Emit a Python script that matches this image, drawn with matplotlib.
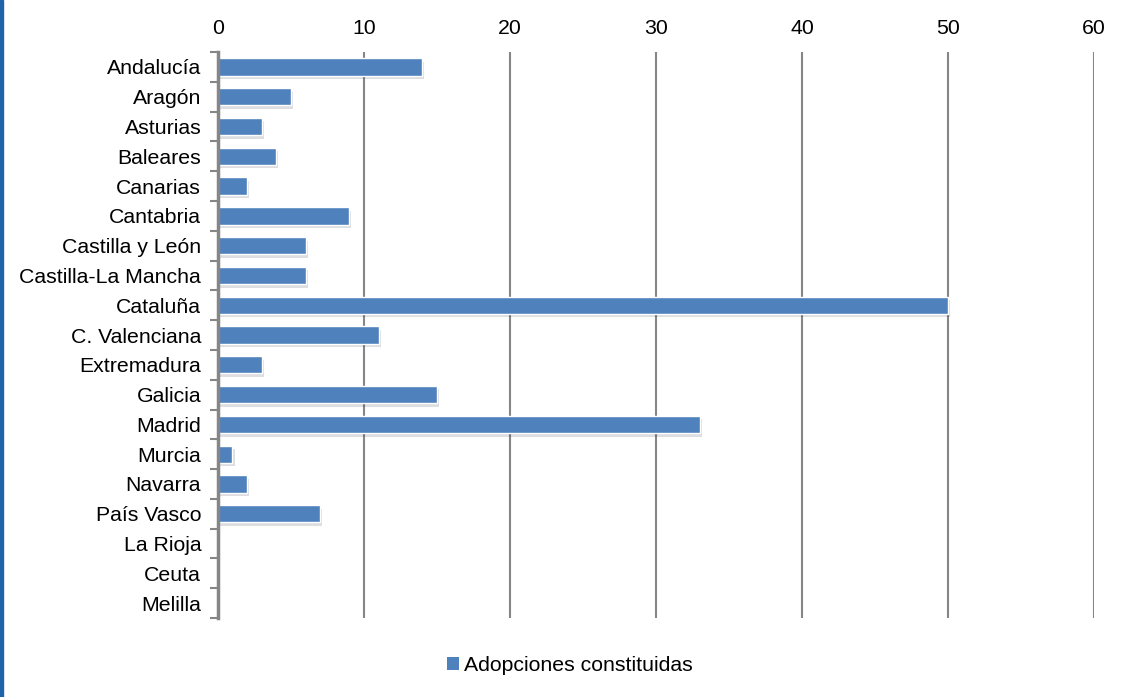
import matplotlib
matplotlib.use("Agg")
import matplotlib.pyplot as plt
import matplotlib.patheffects as pe
from matplotlib.patches import Rectangle, Patch
import numpy as np

plt.rcParams['font.family'] = ['Liberation Sans', 'DejaVu Sans']

regions = ['Andalucía', 'Aragón', 'Asturias', 'Baleares', 'Canarias', 'Cantabria',
           'Castilla y León', 'Castilla-La Mancha', 'Cataluña', 'C. Valenciana',
           'Extremadura', 'Galicia', 'Madrid', 'Murcia', 'Navarra', 'País Vasco',
           'La Rioja', 'Ceuta', 'Melilla']
adopciones = [14, 5, 3, 4, 2, 9, 6, 6, 50, 11, 3, 15, 33, 1, 2, 7, 0, 0, 0]
x_ticks = [0, 10, 20, 30, 40, 50, 60]
series_label = 'Adopciones constituidas'

BAR = '#4F81BD'
GRID = '#868686'

fig = plt.figure(figsize=(11.29, 6.97), dpi=100)
ax = fig.add_axes([0.193, 0.1133, 0.776, 0.812])

y = np.arange(len(regions))
bars = ax.barh(y, adopciones, height=0.58, color=BAR, edgecolor='white',
               linewidth=1.0, zorder=3)
for b in bars:
    b.set_path_effects([pe.SimplePatchShadow(offset=(1.5, -2.5), alpha=0.15),
                        pe.Normal()])

ax.set_xlim(0, 60)
ax.set_ylim(len(regions) - 0.5, -0.5)
ax.xaxis.tick_top()
ax.set_xticks(x_ticks)
ax.set_xticklabels([str(t) for t in x_ticks], fontsize=15.3)
ax.tick_params(axis='x', length=0, pad=10)

# category labels, tick marks sit on the boundaries
ax.set_yticks(y)
ax.set_yticklabels(regions, fontsize=15.3)
ax.tick_params(axis='y', which='major', length=0, pad=12)
ax.set_yticks(np.arange(len(regions) + 1) - 0.5, minor=True)
ax.tick_params(axis='y', which='minor', length=6, width=1.5, color=GRID)

for t in x_ticks[1:]:
    ax.axvline(t, color=GRID, linewidth=1.5, zorder=1)

for s in ['top', 'right', 'bottom']:
    ax.spines[s].set_visible(False)
ax.spines['left'].set_color(GRID)
ax.spines['left'].set_linewidth(2.5)
ax.spines['left'].set_zorder(4)

fig.legend(handles=[Patch(facecolor=BAR, label=series_label)],
           loc='center', bbox_to_anchor=(0.505, 0.045), frameon=False,
           fontsize=15.3, handlelength=0.55, handleheight=0.55, handletextpad=0.25)

# blue frame on the left edge
fig.add_artist(Rectangle((0, 0), 3 / 1129, 1, transform=fig.transFigure,
                         color='#1F64A8', zorder=10))

fig.savefig('out.png', dpi=100)
